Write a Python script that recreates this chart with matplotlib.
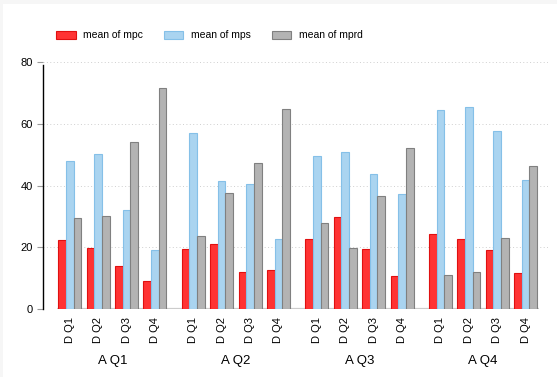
import numpy as np
import matplotlib
matplotlib.use("Agg")
import matplotlib.pyplot as plt
from matplotlib.patches import Rectangle
import matplotlib.transforms as mtransforms

plt.rcParams['font.family'] = ['Liberation Sans', 'DejaVu Sans']

groups = ["A Q1", "A Q2", "A Q3", "A Q4"]
subgroups = ["D Q1", "D Q2", "D Q3", "D Q4"]

# means per (A quarter, D quarter), read row by row
mpc = [22.4, 19.8, 13.9, 9.2,
       19.5, 21.2, 12.1, 12.6,
       22.7, 29.8, 19.5, 10.7,
       24.3, 22.7, 19.1, 11.8]
mps = [47.8, 50.3, 32.1, 19.1,
       57.1, 41.3, 40.5, 22.7,
       49.4, 50.7, 43.8, 37.1,
       64.6, 65.3, 57.8, 41.7]
mprd = [29.6, 30.1, 54.1, 71.7,
        23.7, 37.6, 47.4, 64.9,
        28.0, 19.6, 36.6, 52.2,
        11.0, 12.0, 23.0, 46.4]

series = [("mean of mpc", mpc, "#ff3333", "#e01010"),
          ("mean of mps", mps, "#aad4f0", "#85c0e8"),
          ("mean of mprd", mprd, "#b3b3b3", "#808080")]

gap = 0.35
w = 0.27
x = np.array([g * (len(subgroups) + gap) + j
              for g in range(len(groups)) for j in range(len(subgroups))])

fig = plt.figure(figsize=(5.57, 3.77), dpi=100, facecolor="#f6f6f6")
fig.patches.append(Rectangle((3 / 557, 0), 1, 1 - 4 / 377, transform=fig.transFigure,
                             facecolor="white", edgecolor="none", zorder=-10))
ax = fig.add_axes([43.3 / 557, 68 / 377, 504.7 / 557, 247 / 377])
ax.set_facecolor("none")

for k, (name, vals, fc, ec) in enumerate(series):
    ax.bar(x + (k - 1) * w, vals, width=w, color=fc, edgecolor=ec,
           linewidth=0.8, label=name, zorder=3)

ax.set_xlim(-0.93, 16.84)
ax.set_ylim(0, 80)
ax.set_yticks([0, 20, 40, 60, 80])
ax.yaxis.grid(True, linestyle=(0, (1, 2.5)), color="#cfcfcf", linewidth=0.7, zorder=0)
ax.hlines(0, x[0] - 1.5 * w - 0.06, x[-1] + 1.5 * w + 0.06, color="#cccccc",
          linewidth=1.6, zorder=2)

for s in ["top", "right", "bottom"]:
    ax.spines[s].set_visible(False)
ax.spines["left"].set_bounds(0, 79)
ax.spines["left"].set_linewidth(1.0)
ax.tick_params(axis="y", length=4.5, color="#999999", labelsize=8, pad=3)
ax.tick_params(axis="x", length=0, labelsize=8, pad=5.5)

ax.set_xticks(x)
ax.set_xticklabels(subgroups * len(groups), rotation=90)

trans = mtransforms.blended_transform_factory(ax.transData, ax.transAxes)
for g, name in enumerate(groups):
    cx = x[g * 4:(g + 1) * 4].mean()
    ax.text(cx, -52 / 247, name, transform=trans, ha="center", va="center", fontsize=9.5)

fig.legend(loc="center left", bbox_to_anchor=(51 / 557, 1 - 35.5 / 377), ncol=3,
           frameon=False, fontsize=7.5, handlelength=1.87, handleheight=0.85,
           handletextpad=0.72, columnspacing=2.0, borderpad=0)

fig.savefig("out.png", dpi=100, facecolor=fig.get_facecolor())
